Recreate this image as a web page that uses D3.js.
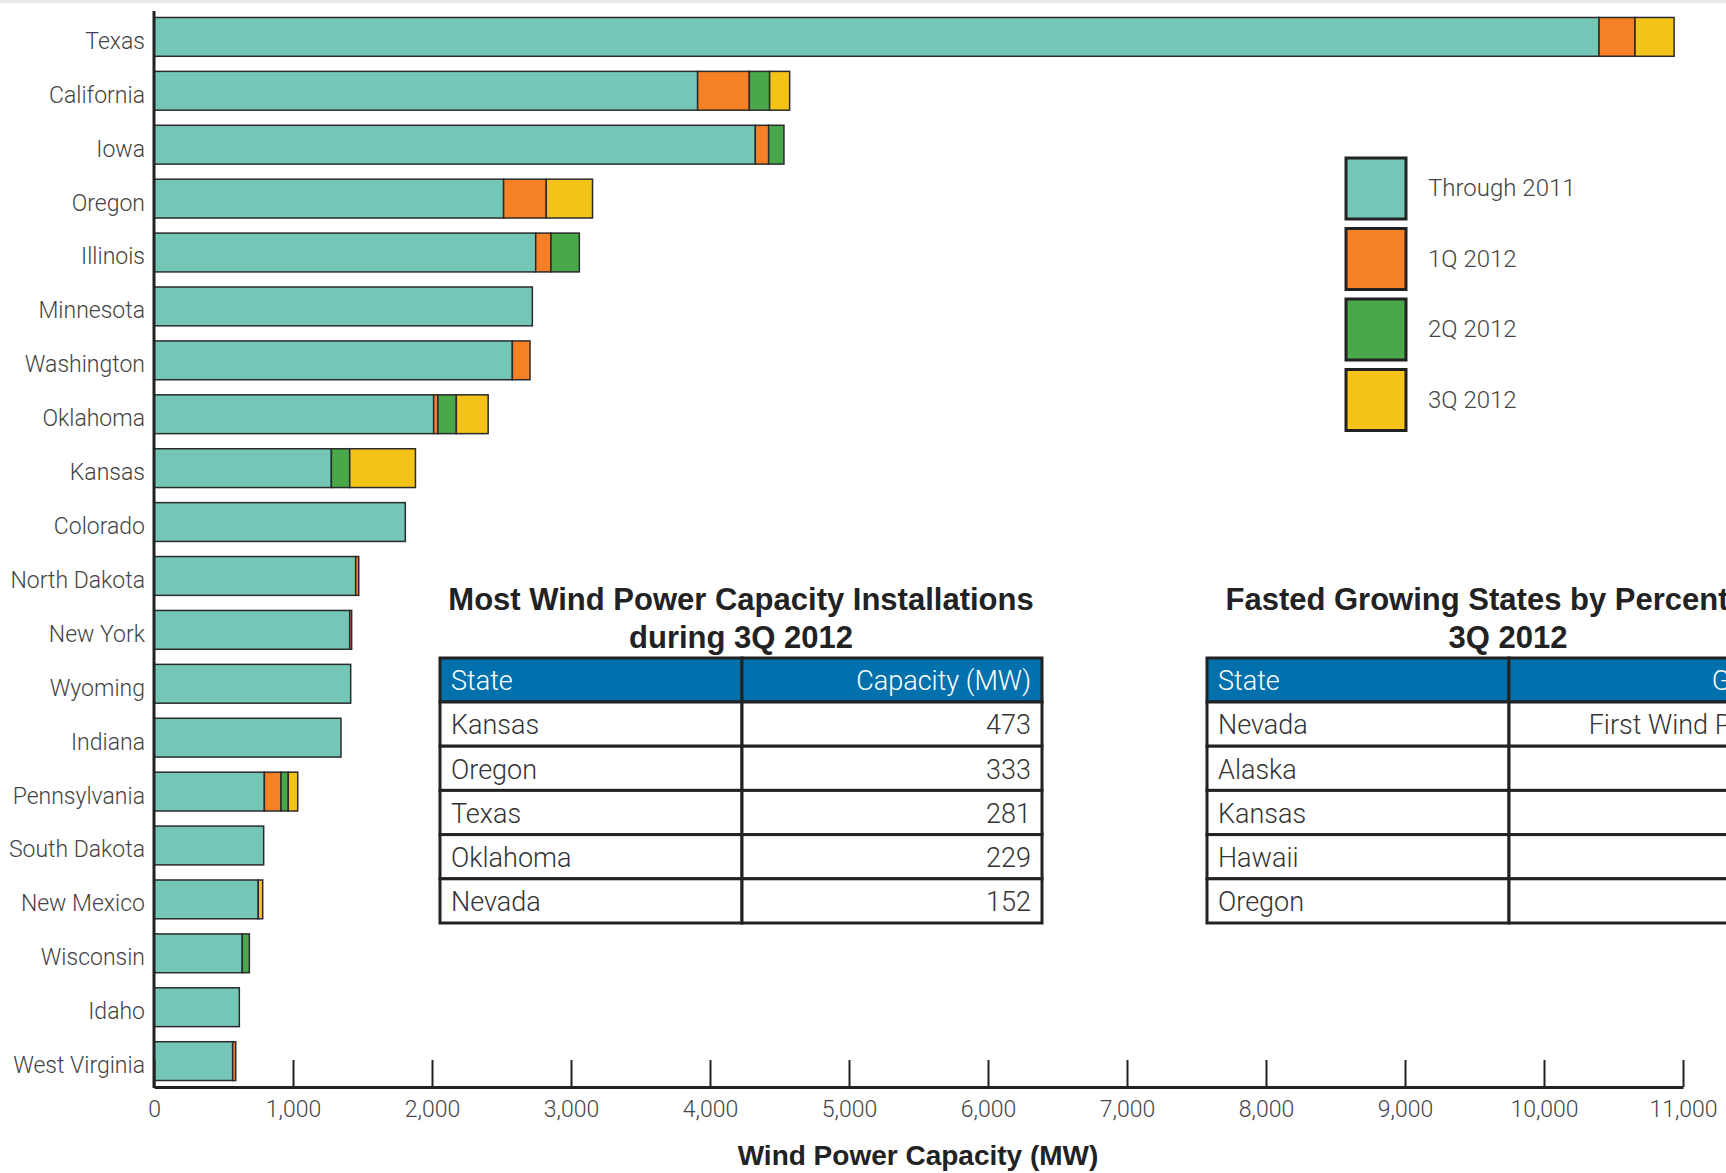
<!DOCTYPE html>
<html>
<head>
<meta charset="utf-8">
<script src="https://cdn.jsdelivr.net/npm/d3@7"></script>
<style>
  body { margin: 0; background: #fff; overflow: hidden; }
  svg { display: block; }
  .lbl text { font-family: "Roboto Light", Roboto, "Liberation Sans", sans-serif; font-weight: 300; fill: #444; }
  .ttl { font-family: "Liberation Sans", Arial, sans-serif; font-weight: bold; fill: #222; }
</style>
</head>
<body>
<script>
// states in chart order, MW
const states = ["Texas", "California", "Iowa", "Oregon", "Illinois", "Minnesota", "Washington",
  "Oklahoma", "Kansas", "Colorado", "North Dakota", "New York", "Wyoming", "Indiana",
  "Pennsylvania", "South Dakota", "New Mexico", "Wisconsin", "Idaho", "West Virginia"];
const through2011 = [10396, 3911, 4326, 2515, 2746, 2722, 2578, 2012, 1276, 1808, 1451, 1408, 1415, 1345, 794, 789, 750, 635, 614, 566];
const q1_2012 = [259, 372, 96, 307, 110, 0, 127, 31, 0, 0, 22, 14, 0, 0, 120, 0, 0, 0, 0, 22];
const q2_2012 = [0, 146, 110, 0, 204, 0, 0, 132, 132, 0, 0, 0, 0, 0, 52, 0, 0, 51, 0, 0];
const q3_2012 = [281, 144, 0, 333, 0, 0, 0, 229, 473, 0, 0, 0, 0, 0, 68, 0, 32, 0, 0, 0];

const seriesKeys = ["t2011", "q1", "q2", "q3"];
const seriesNames = ["Through 2011", "1Q 2012", "2Q 2012", "3Q 2012"];
const seriesColors = ["#74c6b7", "#f58025", "#48a84a", "#f3c318"];

const xTicks = [0, 1000, 2000, 3000, 4000, 5000, 6000, 7000, 8000, 9000, 10000, 11000];

// tables
const topStates = ["Kansas", "Oregon", "Texas", "Oklahoma", "Nevada"];
const topMW = [473, 333, 281, 229, 152];
const growthStates = ["Nevada", "Alaska", "Kansas", "Hawaii", "Oregon"];
const growthValues = ["First Wind Project", "", "", "", ""];

const W = 1726, H = 1173;
const svg = d3.select("body").append("svg").attr("width", W).attr("height", H);

svg.append("rect").attr("x", 0).attr("y", 0).attr("width", W).attr("height", 3).attr("fill", "#e9e9e9");

const x = d3.scaleLinear().domain([0, 11000]).range([154, 1683]);
const y = d3.scaleBand().domain(states).range([11, 1087]).paddingInner(0.28).paddingOuter(0.12);

const rows = states.map((s, i) => ({
  state: s, t2011: through2011[i], q1: q1_2012[i], q2: q2_2012[i], q3: q3_2012[i]
}));
const stacked = d3.stack().keys(seriesKeys)(rows);

const bars = svg.append("g");
stacked.forEach((layer, k) => {
  bars.append("g")
    .attr("fill", seriesColors[k])
    .selectAll("rect")
    .data(layer.filter(d => d[1] - d[0] > 0))
    .join("rect")
    .attr("x", d => x(d[0]))
    .attr("y", d => y(d.data.state))
    .attr("width", d => x(d[1]) - x(d[0]))
    .attr("height", y.bandwidth())
    .attr("stroke", "#2b2b2b")
    .attr("stroke-width", 1.5);
});

// y axis labels
const yAxis = svg.append("g").attr("class", "lbl")
  .attr("transform", "translate(154,0)")
  .call(d3.axisLeft(y).tickSize(0).tickPadding(9));
yAxis.select(".domain").remove();
yAxis.selectAll("text").style("font-size", "23px").attr("dy", "0.52em");

svg.append("line").attr("x1", 154).attr("x2", 154).attr("y1", 11).attr("y2", 1088)
  .attr("stroke", "#222").attr("stroke-width", 3);

// x axis
const xAxis = svg.append("g").attr("class", "lbl")
  .attr("transform", "translate(0,1087)")
  .call(d3.axisBottom(x).tickValues(xTicks).tickFormat(d3.format(","))
    .tickSizeInner(-27).tickSizeOuter(0).tickPadding(14));
xAxis.select(".domain").attr("stroke", "#222").attr("stroke-width", 3);
xAxis.selectAll(".tick line").attr("stroke", "#222").attr("stroke-width", 2);
xAxis.selectAll("text").style("font-size", "23px").attr("fill", "#555");

svg.append("text").attr("class", "ttl")
  .attr("x", 918).attr("y", 1165).attr("text-anchor", "middle")
  .style("font-size", "28px").text("Wind Power Capacity (MW)");

// legend
const lg = svg.append("g").attr("class", "lbl");
seriesNames.forEach((name, i) => {
  const cy = 188 + i * 70.5;
  lg.append("rect").attr("x", 1346).attr("y", cy - 30).attr("width", 60).attr("height", 61)
    .attr("fill", seriesColors[i]).attr("stroke", "#222").attr("stroke-width", 3);
  lg.append("text").attr("x", 1428).attr("y", cy).attr("dy", "0.35em")
    .style("font-size", "24px").text(name);
});

// tables
function drawTable(left, titleLines, headers, col1, col2) {
  const colX = [left, left + 302, left + 602];
  const top = 658, headH = 44, rowH = 44.2;
  titleLines.forEach((t, i) => {
    svg.append("text").attr("class", "ttl")
      .attr("x", (colX[0] + colX[2]) / 2).attr("y", 610 + i * 38)
      .attr("text-anchor", "middle").style("font-size", "31px").text(t);
  });
  const g = svg.append("g").attr("class", "lbl");
  const rowsY = [top].concat(col1.map((d, i) => top + headH + i * rowH));
  const cells = [];
  rowsY.forEach((ry, r) => {
    const h = r === 0 ? headH : rowH;
    [0, 1].forEach(c => cells.push({ r, c, x: colX[c], y: ry, w: colX[c + 1] - colX[c], h }));
  });
  g.selectAll("rect").data(cells).join("rect")
    .attr("x", d => d.x).attr("y", d => d.y).attr("width", d => d.w).attr("height", d => d.h)
    .attr("fill", d => d.r === 0 ? "#0071ac" : "#fff")
    .attr("stroke", "#222").attr("stroke-width", 3);
  g.selectAll("text.c").data(cells).join("text").attr("class", "c")
    .attr("x", d => d.c === 0 ? d.x + 11 : d.x + d.w - 11)
    .attr("y", d => d.y + d.h / 2).attr("dy", "0.38em")
    .attr("text-anchor", d => d.c === 0 ? "start" : "end")
    .style("font-size", "27px")
    .style("fill", d => d.r === 0 ? "#fff" : "#333")
    .text(d => d.r === 0 ? headers[d.c] : (d.c === 0 ? col1[d.r - 1] : col2[d.r - 1]));
}

drawTable(440, ["Most Wind Power Capacity Installations", "during 3Q 2012"],
  ["State", "Capacity (MW)"], topStates, topMW);
drawTable(1207, ["Fasted Growing States by Percentage,", "3Q 2012"],
  ["State", "Growth"], growthStates, growthValues);
</script>
</body>
</html>
